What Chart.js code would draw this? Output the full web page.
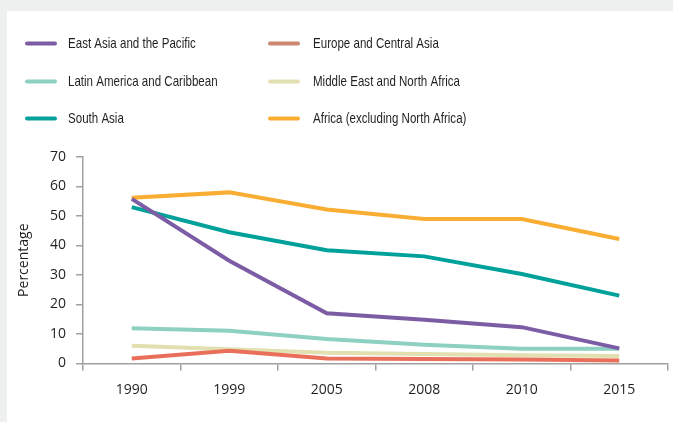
<!DOCTYPE html>
<html>
<head>
<meta charset="utf-8">
<script src="https://cdn.jsdelivr.net/npm/chart.js@4.4.1/dist/chart.umd.min.js"></script>
<style>
  html, body { margin: 0; padding: 0; background: #eef0ef; width: 673px; height: 422px; overflow: hidden; }
  #panel { position: absolute; left: 7px; top: 11px; width: 666px; height: 411px; background: #ffffff; }
  canvas { display: block; }
</style>
</head>
<body>
<div id="panel"><canvas id="c" width="666" height="411"></canvas></div>
<script>
const years = ['1990', '1999', '2005', '2008', '2010', '2015'];
const eastAsiaPacific = [55.8, 34.8, 17.0, 14.8, 12.3, 5.1];
const europeCentralAsia = [1.7, 4.3, 1.7, 1.5, 1.3, 1.0];
const latinAmericaCaribbean = [11.9, 11.1, 8.3, 6.3, 5.0, 5.0];
const middleEastNorthAfrica = [6.0, 4.8, 3.6, 3.2, 2.8, 2.5];
const southAsia = [53.0, 44.5, 38.4, 36.3, 30.3, 23.0];
const africaExNorth = [56.2, 58.0, 52.2, 49.0, 49.0, 42.2];
const yTicks = [0, 10, 20, 30, 40, 50, 60, 70];

const seriesNames = ['East Asia and the Pacific', 'Europe and Central Asia', 'Latin America and Caribbean',
  'Middle East and North Africa', 'South Asia', 'Africa (excluding North Africa)'];
const seriesData = [eastAsiaPacific, europeCentralAsia, latinAmericaCaribbean, middleEastNorthAfrica, southAsia, africaExNorth];
const lineColors = ['#7c5ca5', '#e96f5a', '#8ed0c2', '#e2dfb0', '#00a19b', '#f9ae33'];
const legendColors = ['#7c5ca5', '#cb8771', '#8ed0c2', '#e2dfb0', '#00a19b', '#f9ae33'];

const gridLegend = {
  id: 'gridLegend',
  afterDraw(chart) {
    const ctx = chart.ctx;
    ctx.save();
    const colSwatch = [18, 261];
    const colText = [61, 306];
    const rowY = [32.5, 70.5, 107.5];
    chart.data.datasets.forEach((ds, i) => {
      const col = i % 2, row = Math.floor(i / 2);
      const y = rowY[row];
      ctx.strokeStyle = legendColors[i];
      ctx.lineWidth = 4;
      ctx.lineCap = 'round';
      ctx.beginPath();
      ctx.moveTo(colSwatch[col] + 2, y);
      ctx.lineTo(colSwatch[col] + 30, y);
      ctx.stroke();
      ctx.save();
      ctx.fillStyle = '#231f20';
      ctx.font = '15px "Liberation Sans", Arial, sans-serif';
      ctx.textBaseline = 'middle';
      ctx.textAlign = 'left';
      ctx.translate(colText[col], y);
      ctx.scale(0.77, 1);
      ctx.fillText(ds.label, 0, 0);
      ctx.restore();
    });
    ctx.restore();
  }
};

new Chart(document.getElementById('c'), {
  type: 'line',
  data: {
    labels: years,
    datasets: seriesNames.map((name, i) => ({
      label: name,
      data: seriesData[i],
      borderColor: lineColors[i],
      backgroundColor: lineColors[i],
      borderWidth: 4,
      pointRadius: 0,
      tension: 0,
      fill: false
    }))
  },
  options: {
    responsive: false,
    animation: false,
    devicePixelRatio: 1,
    layout: { padding: { top: 146, right: 5, left: 0, bottom: 0 } },
    plugins: { legend: { display: false }, tooltip: { enabled: false } },
    scales: {
      x: {
        type: 'category',
        offset: true,
        grid: { display: true, drawOnChartArea: false, drawTicks: true, tickLength: 7, offset: true, color: '#a0a0a0', lineWidth: 1.5 },
        border: { display: true, color: '#a0a0a0', width: 1.5 },
        ticks: { color: '#231f20', font: { family: '"Open Sans", sans-serif', size: 14 }, padding: 11, maxRotation: 0 },
        afterFit(scale) { scale.height = 58.6; }
      },
      y: {
        min: 0, max: 70,
        afterBuildTicks(scale) { scale.ticks = yTicks.map(v => ({ value: v })); },
        grid: { display: true, drawOnChartArea: false, drawTicks: true, tickLength: 7, color: '#a0a0a0', lineWidth: 1.5 },
        border: { display: true, color: '#a0a0a0', width: 1.5 },
        ticks: { color: '#231f20', font: { family: '"Open Sans", sans-serif', size: 14 }, padding: 10 },
        title: { display: true, text: 'Percentage', color: '#231f20', font: { family: '"Open Sans", sans-serif', size: 14 }, padding: { top: 9, bottom: 0 } },
        afterFit(scale) { scale.width = 76; }
      }
    }
  },
  plugins: [gridLegend]
});
</script>
</body>
</html>
